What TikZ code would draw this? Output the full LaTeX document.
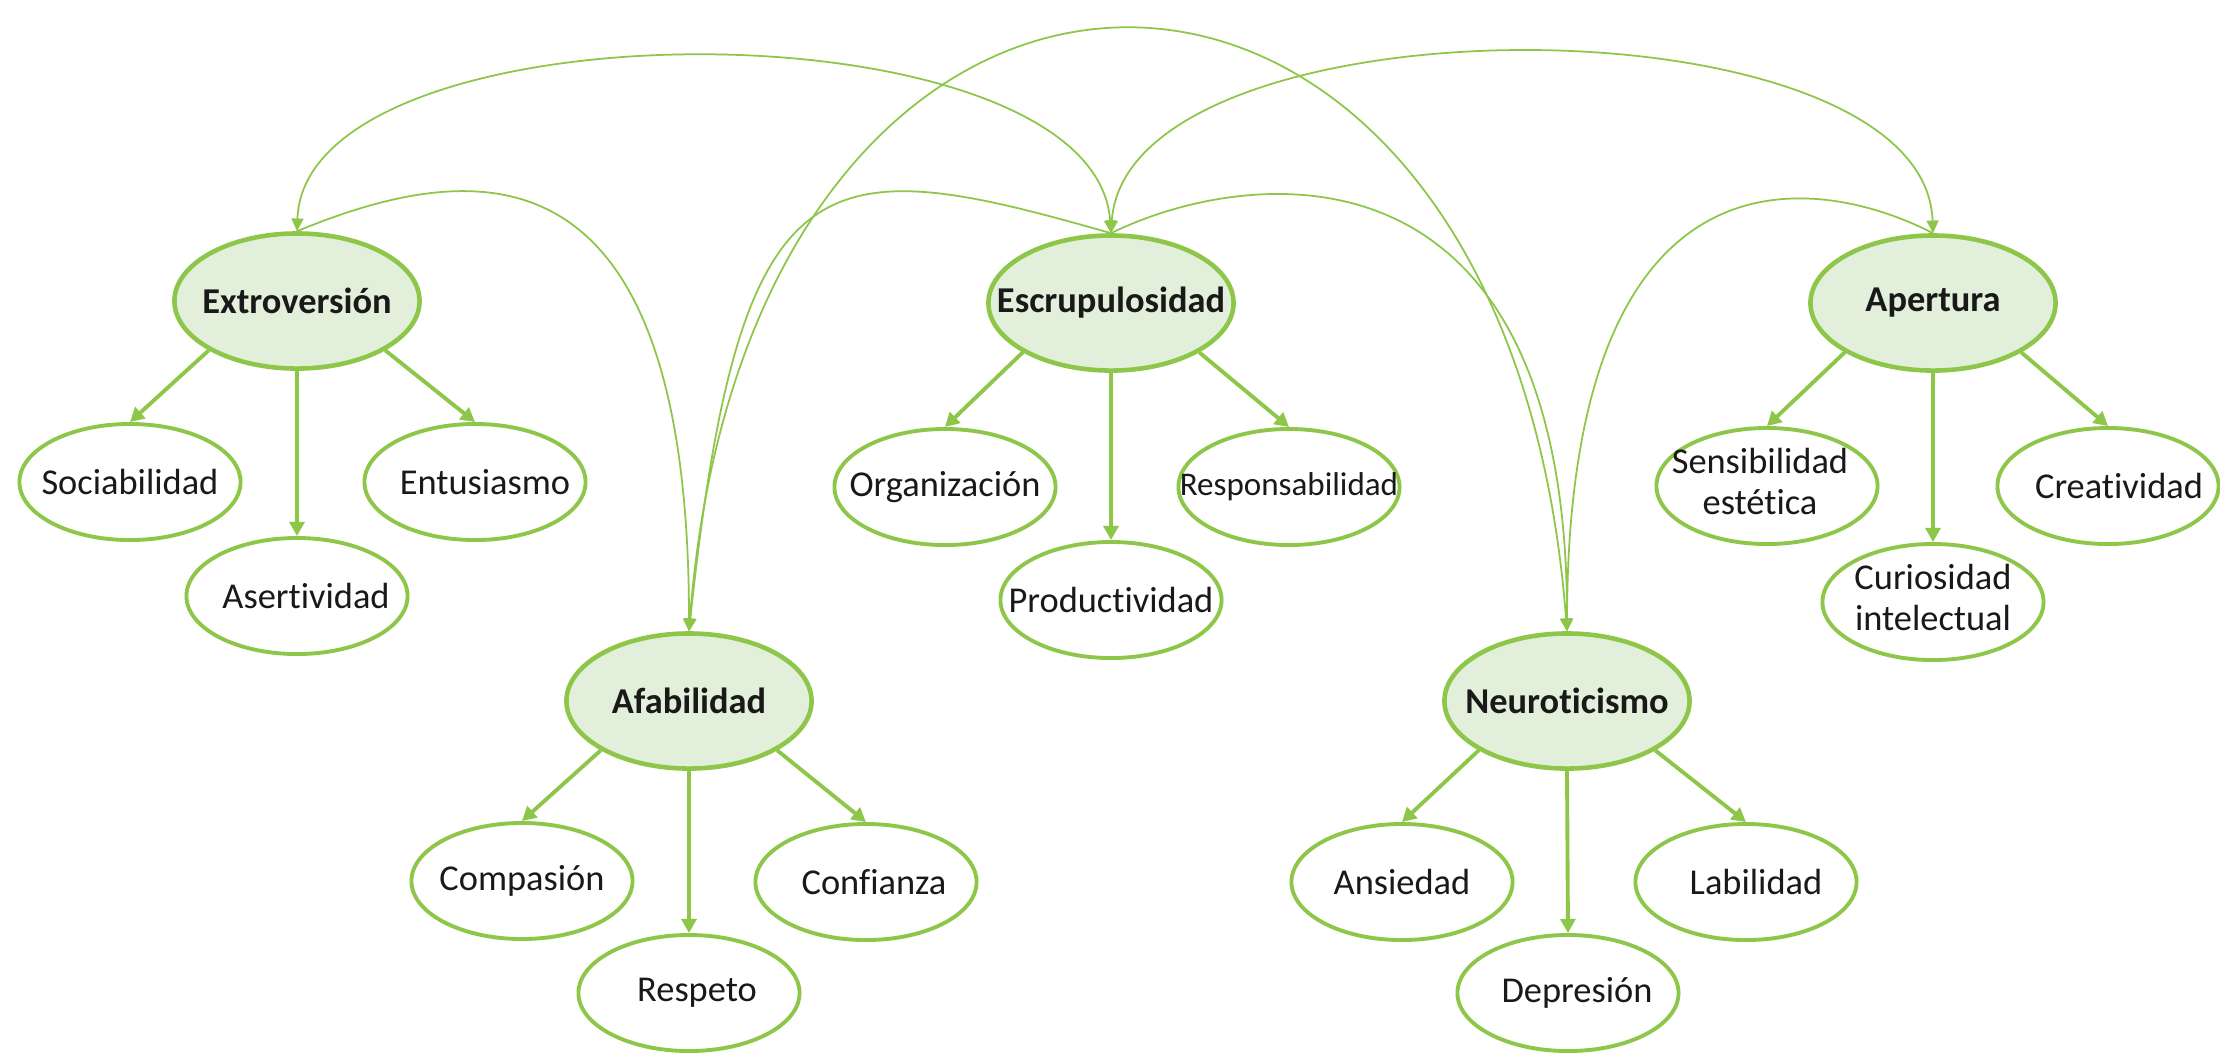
\documentclass[tikz,border=0pt]{standalone}
\usepackage{fontspec}
\setmainfont{Carlito}[Ligatures={NoCommon,NoContextual}]
\usetikzlibrary{shapes.geometric,arrows.meta}
\definecolor{lineg}{RGB}{141,198,72}
\definecolor{fillg}{RGB}{226,239,218}
\definecolor{txt}{RGB}{25,25,25}
\newcommand\lbl[2]{\makebox[0pt]{\hspace*{#1}#2}}
\newcommand\twolines[2]{\makebox[0pt]{\begin{tabular}{@{}c@{}}#1\\#2\end{tabular}}}
\tikzset{
  mainnode/.style={ellipse, draw=lineg, line width=1.3pt, fill=fillg,
    minimum width=2.45cm, minimum height=1.35cm, inner sep=0pt,
    font=\fontsize{10.35}{12.4}\selectfont\bfseries, text=txt},
  subnode/.style={ellipse, draw=lineg, line width=1.1pt, fill=white,
    minimum width=2.21cm, minimum height=1.16cm, inner sep=0pt,
    font=\fontsize{10.35}{11.5}\selectfont, text=txt},
  childarr/.style={draw=lineg, line width=1.1pt, -{Triangle[length=4pt,width=4.2pt]}},
  linkarr/.style={draw=lineg, line width=0.5pt},
  tipend/.style={-{Triangle[length=3.6pt,width=3.4pt]}},
  tipboth/.style={{Triangle[length=3.6pt,width=3.4pt]}-{Triangle[length=3.6pt,width=3.4pt]}}
}
\begin{document}
\begin{tikzpicture}[x=0.01cm,y=-0.01cm]
\useasboundingbox[fill=white] (0,0) rectangle (2220,1053);

% main traits
\node[mainnode] (extro) at (297,301) {\lbl{0pt}{Extroversión}};
\node[mainnode] (escru) at (1111,303) {\lbl{0pt}{Escrupulosidad}};
\node[mainnode] (aper)  at (1933,303) {\lbl{0pt}{Apertura}};
\node[mainnode] (afab)  at (689,701) {\lbl{0pt}{Afabilidad}};
\node[mainnode] (neuro) at (1567,701) {\lbl{0pt}{Neuroticismo}};

% facets
\node[subnode] (soc)  at (130,482) {\lbl{0pt}{Sociabilidad}};
\node[subnode] (ent)  at (475,482) {\lbl{0.2cm}{Entusiasmo}};
\node[subnode] (ase)  at (297,596) {\lbl{0.18cm}{Asertividad}};

\node[subnode] (org)  at (945,487) {\lbl{0pt}{Organización}};
\node[subnode] (resp) at (1289,487) {\lbl{0pt}{\fontsize{9.4}{11}\selectfont Responsabilidad}};
\node[subnode] (prod) at (1111,600) {\lbl{0pt}{Productividad}};

\node[subnode] (sens) at (1767,486) {\lbl{-0.14cm}{\twolines{Sensibilidad}{estética}}};
\node[subnode] (crea) at (2108,486) {\lbl{0.22cm}{Creatividad}};
\node[subnode] (curi) at (1933,602) {\twolines{Curiosidad}{intelectual}};

\node[subnode] (comp) at (522,881) {\lbl{0pt}{Compasión}};
\node[subnode] (conf) at (866,882) {\lbl{0.16cm}{Confianza}};
\node[subnode] (resq) at (689,993) {\lbl{0.16cm}{Respeto}};

\node[subnode] (ansi) at (1402,882) {\lbl{0pt}{Ansiedad}};
\node[subnode] (labi) at (1746,882) {\lbl{0.2cm}{Labilidad}};
\node[subnode] (depr) at (1568,993) {\lbl{0.18cm}{Depresión}};

% trait -> facet arrows
\foreach \p/\a/\b/\c in {extro/soc/ase/ent, escru/org/prod/resp, aper/sens/curi/crea,
                         afab/comp/resq/conf, neuro/ansi/depr/labi}{
  \draw[childarr] (\p.south west) -- (\a.north);
  \draw[childarr] (\p.south) -- (\b.north);
  \draw[childarr] (\p.south east) -- (\c.north);
}

% links between traits
\draw[linkarr,tipboth] (escru.north) .. controls (1095,-1) and (305,-1) .. (extro.north);
\draw[linkarr,tipend]  (extro.north) .. controls (470,160) and (689,130) .. (afab.north);
\draw[linkarr,tipboth] (afab.north) .. controls (750,-170) and (1506,-170) .. (neuro.north);
\draw[linkarr,tipend]  (escru.north) .. controls (820,150) and (740,150) .. (afab.north);
\draw[linkarr,tipboth] (escru.north) .. controls (1127,-7) and (1925,-7) .. (aper.north);
\draw[linkarr,tipend]  (escru.north) .. controls (1250,165) and (1568,130) .. (neuro.north);
\draw[linkarr,tipend]  (aper.north) .. controls (1820,175) and (1568,130) .. (neuro.north);
\end{tikzpicture}
\end{document}
